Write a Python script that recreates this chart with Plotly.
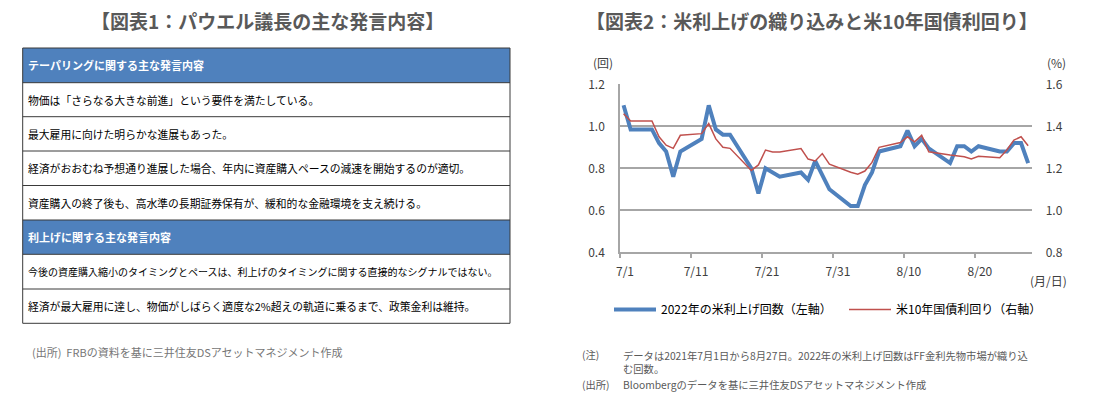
import plotly.graph_objects as go

W, H = 1111, 397
FONT = "Noto Sans CJK JP"

# ---------------- data ----------------
dates = ["2021-07-01", "2021-07-02", "2021-07-05", "2021-07-06", "2021-07-07", "2021-07-08", "2021-07-09",
         "2021-07-12", "2021-07-13", "2021-07-14", "2021-07-15", "2021-07-16",
         "2021-07-19", "2021-07-20", "2021-07-21", "2021-07-22", "2021-07-23",
         "2021-07-26", "2021-07-27", "2021-07-28", "2021-07-29", "2021-07-30",
         "2021-08-02", "2021-08-03", "2021-08-04", "2021-08-05", "2021-08-06",
         "2021-08-09", "2021-08-10", "2021-08-11", "2021-08-12", "2021-08-13",
         "2021-08-16", "2021-08-17", "2021-08-18", "2021-08-19", "2021-08-20",
         "2021-08-23", "2021-08-24", "2021-08-25", "2021-08-26", "2021-08-27"]

hikes_2022 = [1.10, 0.985, 0.985, 0.92, 0.88, 0.76, 0.88,
              0.94, 1.10, 0.985, 0.96, 0.96,
              0.80, 0.68, 0.80, 0.78, 0.76,
              0.78, 0.745, 0.835, 0.765, 0.70,
              0.62, 0.62, 0.72, 0.78, 0.88,
              0.905, 0.98, 0.905, 0.94, 0.895,
              0.825, 0.905, 0.905, 0.88, 0.905,
              0.88, 0.88, 0.92, 0.92, 0.825]

ust10y = [1.46, 1.425, 1.425, 1.35, 1.31, 1.295, 1.357,
          1.365, 1.413, 1.34, 1.30, 1.295,
          1.19, 1.216, 1.287, 1.278, 1.278,
          1.294, 1.244, 1.235, 1.27, 1.22,
          1.181, 1.172, 1.187, 1.228, 1.30,
          1.323, 1.35, 1.326, 1.357, 1.279,
          1.263, 1.26, 1.255, 1.244, 1.257,
          1.25, 1.287, 1.334, 1.35, 1.307]

series_names = ["2022年の米利上げ回数（左軸）", "米10年国債利回り（右軸）"]

x_tick_dates = ["2021-06-30 12:00", "2021-07-10 12:00", "2021-07-20 12:00",
                "2021-07-30 12:00", "2021-08-09 12:00", "2021-08-19 12:00"]
x_tick_labels = ["7/1", "7/11", "7/21", "7/31", "8/10", "8/20"]
x_range = ["2021-06-30 12:00", "2021-08-27 12:00"]

left_ticks = [0.4, 0.6, 0.8, 1.0, 1.2]
right_ticks = [0.8, 1.0, 1.2, 1.4, 1.6]

table_kinds = ["head", "row", "row", "row", "row", "head", "row", "row"]
table_texts = [
    "テーパリングに関する主な発言内容",
    "物価は「さらなる大きな前進」という要件を満たしている。",
    "最大雇用に向けた明らかな進展もあった。",
    "経済がおおむね予想通り進展した場合、年内に資産購入ペースの減速を開始するのが適切。",
    "資産購入の終了後も、高水準の長期証券保有が、緩和的な金融環境を支え続ける。",
    "利上げに関する主な発言内容",
    "今後の資産購入縮小のタイミングとペースは、利上げのタイミングに関する直接的なシグナルではない。",
    "経済が最大雇用に達し、物価がしばらく適度な2%超えの軌道に乗るまで、政策金利は維持。",
]

title_left = "【図表1：パウエル議長の主な発言内容】"
title_right = "【図表2：米利上げの織り込みと米10年国債利回り】"
source_left = "(出所)  FRBの資料を基に三井住友DSアセットマネジメント作成"
note_label = "(注)"
note_text = "データは2021年7月1日から8月27日。2022年の米利上げ回数はFF金利先物市場が織り込<br>む回数。"
source_label = "(出所)"
source_text = "Bloombergのデータを基に三井住友DSアセットマネジメント作成"

# ---------------- layout helpers ----------------
def px(x):
    return x / W

def py(y):
    return 1 - y / H

BLUE = "#4F81BD"
RED = "#C0504D"
GRID = "#A6A6A6"
TXT = "#404040"

plot_l, plot_r, plot_t, plot_b = 620, 1031.7, 84.3, 252.3

fig = go.Figure()
fig.add_trace(go.Scatter(x=dates, y=hikes_2022, name=series_names[0], mode="lines",
                         line=dict(color=BLUE, width=4), yaxis="y"))
fig.add_trace(go.Scatter(x=dates, y=ust10y, name=series_names[1], mode="lines",
                         line=dict(color=RED, width=1.5), yaxis="y2"))

fig.update_layout(
    template="none",
    width=W, height=H, autosize=False,
    margin=dict(l=0, r=0, t=0, b=0, pad=0, autoexpand=False),
    paper_bgcolor="white", plot_bgcolor="white",
    font=dict(family=FONT, size=12, color=TXT),
    showlegend=True,
    legend=dict(orientation="h", x=px(609), y=py(309.5), xanchor="left", yanchor="middle",
                font=dict(size=12, color="#000000"), itemwidth=42,
                entrywidth=178, entrywidthmode="pixels",
                bgcolor="rgba(0,0,0,0)", traceorder="normal"),
    xaxis=dict(type="date", domain=[px(plot_l), px(plot_r)], range=x_range, automargin=False,
               tickvals=x_tick_dates, ticktext=x_tick_labels, ticklabelshift=5,
               showgrid=False, showline=True, linecolor=GRID, linewidth=1.5,
               ticks="outside", ticklen=4, tickcolor=GRID, tickwidth=1.5,
               ticklabelstandoff=4, tickfont=dict(size=12, color=TXT), zeroline=False),
    yaxis=dict(domain=[py(plot_b), py(plot_t)], range=[0.4, 1.2], tickvals=left_ticks, automargin=False,
               tickformat=".1f", showgrid=True, gridcolor=GRID, gridwidth=1.5,
               showline=True, linecolor=GRID, linewidth=1.5, zeroline=False,
               ticks="", ticklabelstandoff=11, tickfont=dict(size=12, color=TXT)),
    yaxis2=dict(overlaying="y", side="right", anchor="x", range=[0.8, 1.6], tickvals=right_ticks,
                automargin=False, tickformat=".1f", showgrid=False, showline=False, zeroline=False,
                ticks="", ticklabelstandoff=13, tickfont=dict(size=12, color=TXT)),
)

shapes = []
annotations = []

def note(text, x, y, size=11, color=TXT, anchor="left", bold=False, yanchor="middle"):
    annotations.append(dict(text=f"<b>{text}</b>" if bold else text, x=px(x), y=py(y),
                            xref="paper", yref="paper", showarrow=False, xanchor=anchor,
                            yanchor=yanchor, align="left", borderpad=0,
                            font=dict(size=size, color=color, family=FONT)))

# titles
note(title_left, 267.5, 21, size=19, color="#595959", anchor="center", bold=True)
note(title_right, 812, 21, size=19, color="#595959", anchor="center", bold=True)

# table
tbl_l, tbl_r = 22.7, 510
row_edges = [48, 82.7, 116.7, 151, 185.5, 220, 254.3, 289, 323.3]
for i, (kind, txt) in enumerate(zip(table_kinds, table_texts)):
    y0, y1 = row_edges[i], row_edges[i + 1]
    if kind == "head":
        shapes.append(dict(type="rect", xref="paper", yref="paper", x0=px(tbl_l), x1=px(tbl_r),
                           y0=py(y1), y1=py(y0), fillcolor=BLUE, line=dict(width=0), layer="below"))
        note(txt, tbl_l + 4, (y0 + y1) / 2, size=11, color="white", bold=True)
    else:
        note(txt, tbl_l + 4, (y0 + y1) / 2, size=10 if len(txt) > 45 else 10.8, color="#000000")
for ye in row_edges:
    shapes.append(dict(type="line", xref="paper", yref="paper", x0=px(tbl_l), x1=px(tbl_r),
                       y0=py(ye), y1=py(ye), line=dict(color="#3A3A3A", width=1)))
for xe in (tbl_l, tbl_r):
    shapes.append(dict(type="line", xref="paper", yref="paper", x0=px(xe), x1=px(xe),
                       y0=py(row_edges[0]), y1=py(row_edges[-1]), line=dict(color="#3A3A3A", width=1)))

note(source_left, 31, 352, size=11, color="#767676")

# chart unit labels
note("(回)", 603, 62.7, size=12, anchor="center")
note("(%)", 1056, 62.7, size=12, anchor="center")
note("(月/日)", 1048, 280, size=12, anchor="center")

# notes under chart
note(note_label, 581, 354, size=10.3, color="#595959")
note(note_text, 621.5, 347, size=10.3, color="#595959", yanchor="top")
note(source_label, 581, 384, size=10.3, color="#595959")
note(source_text, 621.5, 384, size=10.3, color="#595959")

fig.update_layout(shapes=shapes, annotations=annotations)

fig.write_html("out.html", config={"displayModeBar": False},
               post_script="document.body.style.margin='0';document.body.style.overflow='hidden';")
